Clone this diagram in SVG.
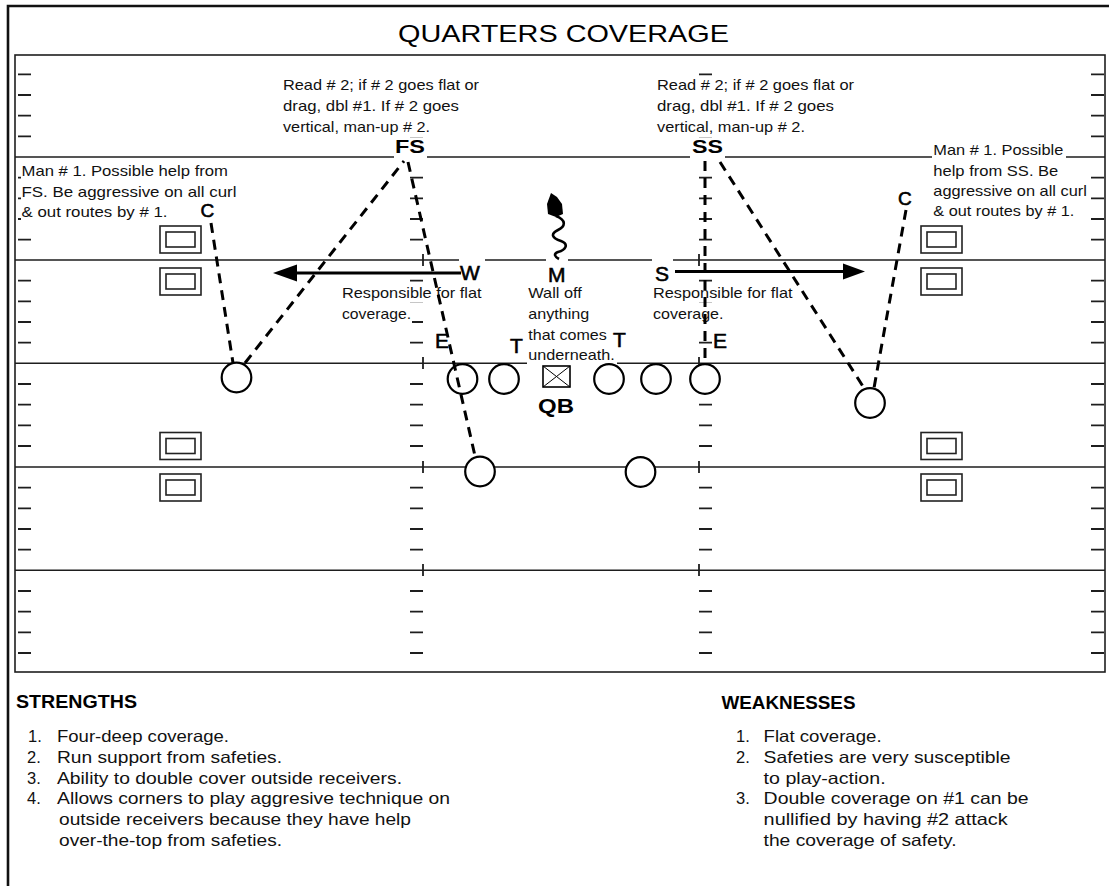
<svg xmlns="http://www.w3.org/2000/svg" width="1109" height="886" viewBox="0 0 1109 886">
<defs>
<style>
.ln{stroke:#1e1e1e;stroke-width:1.6;fill:none}
.tk{stroke:#1e1e1e;stroke-width:1.8;fill:none}
.rt{stroke:#000;stroke-width:3;stroke-dasharray:10 7;fill:none}
.pl{fill:#fff;stroke:#000;stroke-width:2.2}
.bg{fill:#fff}
.t{font-family:"Liberation Sans",Arial,sans-serif;font-size:15px;fill:#111}
.s{font-family:"Liberation Sans",Arial,sans-serif;font-size:16.5px;fill:#111}
.lb{font-family:"Liberation Sans",Arial,sans-serif;font-size:21px;fill:#000;stroke:#000;stroke-width:0.6}
.bd{font-family:"Liberation Sans",Arial,sans-serif;font-weight:bold;fill:#000}
.bx{fill:#fff;stroke:#222;stroke-width:1.6}
.ar{stroke:#000;stroke-width:2.8;fill:none}
</style>
<path id="tks" d="M0 74.3h13M0 95h13M0 115.7h13M0 136.3h13M0 177.7h13M0 198.3h13M0 219h13M0 239.7h13M0 280.7h13M0 301.3h13M0 322h13M0 342.7h13M0 384h13M0 404.7h13M0 425.3h13M0 446h13M0 487.7h13M0 508.3h13M0 529h13M0 549.7h13M0 591h13M0 611.7h13M0 632.3h13M0 653h13"/>
<g id="rcv"><rect x="0" y="0" width="41" height="27"/><rect x="6" y="6" width="29" height="15"/></g>
</defs>
<rect width="1109" height="886" fill="#fff"/>
<g id="frame">
<path d="M8 886V6H1109" stroke="#111" stroke-width="2.6" fill="none"/>
<text x="398" y="41.5" font-family="Liberation Sans, Arial, sans-serif" font-size="24" textLength="331" lengthAdjust="spacingAndGlyphs">QUARTERS COVERAGE</text>
<rect class="ln" x="15" y="55" width="1090" height="617"/>
</g>
<g id="field">
<path class="ln" d="M15 157H1105M15 260H1105M15 363.3H1105M15 467H1105M15 570.3H1105"/>
<use href="#tks" class="tk" x="18"/>
<use href="#tks" class="tk" x="410"/>
<use href="#tks" class="tk" x="699"/>
<use href="#tks" class="tk" x="1091"/>
<path class="tk" d="M423 254v12M423 357v12M423 461v12M423 564v12M699 254v12M699 357v12M699 461v12M699 564v12"/>
<use href="#rcv" class="bx" x="160" y="226"/>
<use href="#rcv" class="bx" x="160" y="268"/>
<use href="#rcv" class="bx" x="160" y="432.5"/>
<use href="#rcv" class="bx" x="160" y="474"/>
<use href="#rcv" class="bx" x="921" y="226"/>
<use href="#rcv" class="bx" x="921" y="268"/>
<use href="#rcv" class="bx" x="921" y="432.5"/>
<use href="#rcv" class="bx" x="921" y="474"/>
</g>
<g id="notes">
<rect class="bg" x="281" y="70" width="200" height="67"/>
<text class="t" x="283" y="90" textLength="196" lengthAdjust="spacingAndGlyphs">Read # 2; if # 2 goes flat or</text>
<text class="t" x="283" y="111" textLength="176" lengthAdjust="spacingAndGlyphs">drag, dbl #1.  If # 2 goes</text>
<text class="t" x="283" y="132" textLength="147" lengthAdjust="spacingAndGlyphs">vertical, man-up # 2.</text>
<rect class="bg" x="655" y="77" width="203" height="60"/>
<text class="t" x="657" y="90" textLength="197" lengthAdjust="spacingAndGlyphs">Read # 2; if # 2 goes flat or</text>
<text class="t" x="657" y="111" textLength="177" lengthAdjust="spacingAndGlyphs">drag, dbl #1.  If # 2 goes</text>
<text class="t" x="657" y="132" textLength="148" lengthAdjust="spacingAndGlyphs">vertical, man-up # 2.</text>
<rect class="bg" x="21" y="163" width="209" height="17"/>
<rect class="bg" x="21" y="184" width="217" height="17"/>
<rect class="bg" x="21" y="205" width="149" height="16"/>
<text class="t" x="21.5" y="175.7" textLength="206.5" lengthAdjust="spacingAndGlyphs">Man # 1.  Possible help from</text>
<text class="t" x="21.5" y="196.7" textLength="215" lengthAdjust="spacingAndGlyphs">FS.  Be aggressive on all curl</text>
<text class="t" x="21.5" y="217.3" textLength="146" lengthAdjust="spacingAndGlyphs">&amp; out routes by # 1.</text>
<rect class="bg" x="932" y="143" width="134" height="17"/>
<rect class="bg" x="932" y="163" width="128" height="17"/>
<rect class="bg" x="932" y="183" width="156" height="17"/>
<rect class="bg" x="932" y="203" width="144" height="17"/>
<text class="t" x="933.3" y="155" textLength="130" lengthAdjust="spacingAndGlyphs">Man # 1.  Possible</text>
<text class="t" x="933.3" y="175.7" textLength="125" lengthAdjust="spacingAndGlyphs">help from SS.  Be</text>
<text class="t" x="933.3" y="195.5" textLength="153.5" lengthAdjust="spacingAndGlyphs">aggressive on all curl</text>
<text class="t" x="933.3" y="215.7" textLength="141" lengthAdjust="spacingAndGlyphs">&amp; out routes by # 1.</text>
<rect class="bg" x="341" y="286" width="142" height="16"/>
<rect class="bg" x="341" y="307" width="71" height="16"/>
<text class="t" x="342" y="298.3" textLength="139.5" lengthAdjust="spacingAndGlyphs">Responsible for flat</text>
<text class="t" x="342" y="319.3" textLength="69" lengthAdjust="spacingAndGlyphs">coverage.</text>
<rect class="bg" x="652" y="286" width="142" height="16"/>
<rect class="bg" x="652" y="307" width="74" height="16"/>
<text class="t" x="653" y="298.3" textLength="139.5" lengthAdjust="spacingAndGlyphs">Responsible for flat</text>
<text class="t" x="653" y="319.3" textLength="70.5" lengthAdjust="spacingAndGlyphs">coverage.</text>
<rect class="bg" x="527" y="286" width="56" height="16"/>
<rect class="bg" x="527" y="307" width="63" height="16"/>
<rect class="bg" x="527" y="328" width="81" height="16"/>
<rect class="bg" x="527" y="348" width="90" height="16"/>
<text class="t" x="528.3" y="298.3" textLength="53.5" lengthAdjust="spacingAndGlyphs">Wall off</text>
<text class="t" x="528.3" y="319.3" textLength="61" lengthAdjust="spacingAndGlyphs">anything</text>
<text class="t" x="528.3" y="340" textLength="78.5" lengthAdjust="spacingAndGlyphs">that comes</text>
<text class="t" x="528.3" y="360.3" textLength="86.5" lengthAdjust="spacingAndGlyphs">underneath.</text>
</g>
<g id="label-bgs">
<rect class="bg" x="394" y="139" width="33" height="20"/>
<rect class="bg" x="690" y="139" width="35" height="20"/>
<rect class="bg" x="459" y="256" width="26" height="6"/>
<rect class="bg" x="546" y="256" width="22" height="6"/>
<rect class="bg" x="652" y="256" width="21" height="6"/>
</g>
<g id="players">
<circle class="pl" cx="236.5" cy="377.5" r="14.8"/>
<circle class="pl" cx="462.5" cy="379" r="14.8"/>
<circle class="pl" cx="504" cy="379" r="14.8"/>
<circle class="pl" cx="609" cy="379" r="14.8"/>
<circle class="pl" cx="656" cy="379" r="14.8"/>
<circle class="pl" cx="705" cy="379" r="14.8"/>
<circle class="pl" cx="870" cy="403" r="14.8"/>
<circle class="pl" cx="480" cy="471.5" r="14.8"/>
<circle class="pl" cx="640.5" cy="472" r="14.8"/>
<g id="qb">
<rect x="543" y="366" width="27" height="21" fill="#fff" stroke="#000" stroke-width="1.6"/>
<path d="M543 366L570 387M570 366L543 387" stroke="#000" stroke-width="1" fill="none"/>
<text class="bd" x="538" y="413" font-size="21" textLength="36" lengthAdjust="spacingAndGlyphs">QB</text>
</g>
</g>
<g id="connectors">
<path class="rt" d="M211 223L233 363"/>
<path class="rt" d="M245 363L404 161"/>
<path class="rt" d="M408 162L475 456"/>
<path class="rt" d="M705 161V363"/>
<path class="rt" d="M720 162L864 388"/>
<path class="rt" d="M906 210L874 388"/>
<path class="ar" d="M461 273H295"/>
<path d="M273 273L297 264.5V281.5Z" fill="#000"/>
<path class="ar" d="M675 271.5H845"/>
<path d="M865 271.5L843 263.5V279.5Z" fill="#000"/>
<path d="M556 216C566 220 566 226 558 230C550 234 552 238 561 241C569 244 566 250 558 252C553 254 555 257 559 259" stroke="#000" stroke-width="2.6" fill="none"/>
<path d="M551 193L557 197L562 204L563 214L556 217L548 214L547 204Z" fill="#000"/>
</g>
<g id="labels">
<text class="bd" x="395" y="153" font-size="18.5" textLength="30" lengthAdjust="spacingAndGlyphs">FS</text>
<text class="bd" x="692" y="153" font-size="18.5" textLength="31" lengthAdjust="spacingAndGlyphs">SS</text>
<text class="lb" x="460" y="280">W</text>
<text class="lb" x="548" y="282">M</text>
<text class="lb" x="655" y="280.5">S</text>
<text class="lb" x="435" y="348">E</text>
<text class="lb" x="713" y="348">E</text>
<text class="lb" x="510" y="353">T</text>
<text class="lb" x="613" y="346.5">T</text>
<text class="lb" x="200.5" y="217" style="font-size:19px">C</text>
<text class="lb" x="898" y="204.5" style="font-size:19px">C</text>
</g>
<g id="strengths">
<text class="bd" x="16" y="708" font-size="17.5" textLength="121" lengthAdjust="spacingAndGlyphs">STRENGTHS</text>
<text class="s" x="28" y="742">1.</text>
<text class="s" x="57" y="742" textLength="172" lengthAdjust="spacingAndGlyphs">Four-deep coverage.</text>
<text class="s" x="27" y="763">2.</text>
<text class="s" x="57" y="763" textLength="225" lengthAdjust="spacingAndGlyphs">Run support from safeties.</text>
<text class="s" x="27" y="783.5">3.</text>
<text class="s" x="57" y="783.5" textLength="345" lengthAdjust="spacingAndGlyphs">Ability to double cover outside receivers.</text>
<text class="s" x="27" y="804">4.</text>
<text class="s" x="57" y="804" textLength="393" lengthAdjust="spacingAndGlyphs">Allows corners to play aggresive technique on</text>
<text class="s" x="59" y="825" textLength="352" lengthAdjust="spacingAndGlyphs">outside receivers because they have help</text>
<text class="s" x="59" y="845.5" textLength="223" lengthAdjust="spacingAndGlyphs">over-the-top from safeties.</text>
</g>
<g id="weaknesses">
<text class="bd" x="721.5" y="709" font-size="17.5" textLength="134" lengthAdjust="spacingAndGlyphs">WEAKNESSES</text>
<text class="s" x="736" y="742">1.</text>
<text class="s" x="763.6" y="742" textLength="118" lengthAdjust="spacingAndGlyphs">Flat coverage.</text>
<text class="s" x="736" y="763">2.</text>
<text class="s" x="763.6" y="763" textLength="247" lengthAdjust="spacingAndGlyphs">Safeties are very susceptible</text>
<text class="s" x="763.6" y="783.5" textLength="122" lengthAdjust="spacingAndGlyphs">to play-action.</text>
<text class="s" x="736" y="804">3.</text>
<text class="s" x="763.6" y="804" textLength="265" lengthAdjust="spacingAndGlyphs">Double coverage on #1 can be</text>
<text class="s" x="763.6" y="825" textLength="244" lengthAdjust="spacingAndGlyphs">nullified by having #2 attack</text>
<text class="s" x="763.6" y="845.5" textLength="193" lengthAdjust="spacingAndGlyphs">the coverage of safety.</text>
</g>
</svg>
